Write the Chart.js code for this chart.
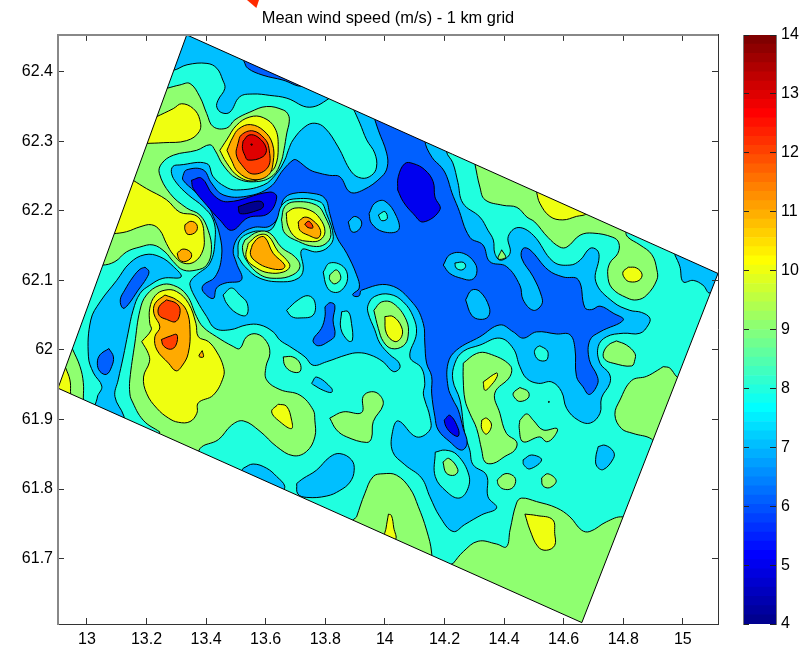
<!DOCTYPE html>
<html>
<head>
<meta charset="utf-8">
<title>Mean wind speed</title>
<script src="https://cdn.jsdelivr.net/npm/chart.js@4"></script>
<style>
    body { margin: 0; background: #fff; }
    #wrap { position: relative; width: 801px; height: 646px; overflow: hidden; }
    canvas { position: absolute; top: 0; }
    #mapChart { left: 0; }
    #barChart { left: 700px; }
    #arrow { position: absolute; left: 247px; top: 0; width: 12px; height: 8px; background: #ff2a00; clip-path: polygon(0 0, 100% 0, 78% 100%); }
</style>
</head>
<body>
<div id="wrap">
    <canvas id="mapChart" width="801" height="646"></canvas>
    <canvas id="barChart" width="101" height="646"></canvas>
    <div id="arrow"></div>
</div>
<script>
// Tick labels
const lonTicks = [13, 13.2, 13.4, 13.6, 13.8, 14, 14.2, 14.4, 14.6, 14.8, 15];
const latTicks = [61.7, 61.8, 61.9, 62, 62.1, 62.2, 62.3, 62.4];
const speedTicks = [4, 5, 6, 7, 8, 9, 10, 11, 12, 13, 14];

// Contour regions, [lon, lat]
const gridEdge = [[13.335, 62.453], [15.118, 62.110], [14.661, 61.608], [12.903, 61.945]];
const maskNW = [[13.335, 62.453], [12.903, 61.945], [12.8, 61.945], [12.8, 62.6], [13.335, 62.6]];
const maskNE = [[13.335, 62.453], [13.335, 62.6], [15.2, 62.6], [15.2, 62.110], [15.118, 62.110]];
const maskSE = [[15.118, 62.110], [15.2, 62.110], [15.2, 61.5], [14.661, 61.5], [14.661, 61.608]];
const maskSW = [[14.661, 61.608], [14.661, 61.5], [12.8, 61.5], [12.8, 61.945], [12.903, 61.945]];

// wind speed 9 to 10
const greenSouthWest = [[13.245, 61.882], [13.189, 61.899], [13.150, 61.928], [13.144, 61.938], [13.144, 61.957], [13.161, 62.010], [13.178, 62.057], [13.200, 62.079], [13.245, 62.093], [13.290, 62.093], [13.335, 62.079], [13.368, 62.048], [13.390, 62.033], [13.435, 62.019], [13.491, 62.005], [13.513, 62.002], [13.536, 62.019], [13.570, 62.023], [13.603, 62.012], [13.614, 61.995], [13.601, 61.976], [13.603, 61.957], [13.648, 61.943], [13.715, 61.935], [13.759, 61.914], [13.765, 61.899], [13.765, 61.875], [13.737, 61.854], [13.692, 61.848], [13.637, 61.861], [13.581, 61.883], [13.525, 61.898], [13.486, 61.892], [13.441, 61.871], [13.379, 61.858], [13.362, 61.828], [13.228, 61.863]];
const greenNorthWest = [[13.267, 62.376], [13.312, 62.381], [13.346, 62.383], [13.379, 62.364], [13.402, 62.340], [13.424, 62.321], [13.469, 62.319], [13.497, 62.331], [13.547, 62.342], [13.603, 62.350], [13.659, 62.345], [13.676, 62.338], [13.679, 62.328], [13.671, 62.312], [13.661, 62.287], [13.651, 62.270], [13.625, 62.251], [13.569, 62.242], [13.502, 62.247], [13.457, 62.266], [13.430, 62.287], [13.413, 62.295], [13.368, 62.287], [13.290, 62.280], [13.251, 62.268], [13.243, 62.254], [13.279, 62.225], [13.335, 62.204], [13.379, 62.194], [13.407, 62.172], [13.418, 62.144], [13.402, 62.122], [13.368, 62.115], [13.323, 62.115], [13.290, 62.127], [13.262, 62.141], [13.222, 62.151], [13.178, 62.148], [13.133, 62.141], [13.094, 62.127], [13.051, 62.122], [13.027, 62.126], [13.245, 62.381]];
const greenNorthEast = [[14.302, 62.268], [14.319, 62.234], [14.336, 62.216], [14.396, 62.208], [14.443, 62.205], [14.477, 62.191], [14.503, 62.184], [14.547, 62.162], [14.587, 62.148], [14.611, 62.148], [14.655, 62.165], [14.698, 62.168], [14.765, 62.162], [14.785, 62.154], [14.782, 62.139], [14.755, 62.125], [14.748, 62.108], [14.762, 62.089], [14.812, 62.075], [14.846, 62.072], [14.879, 62.079], [14.913, 62.101], [14.913, 62.115], [14.896, 62.137], [14.856, 62.151], [14.816, 62.162], [14.809, 62.170], [14.822, 62.187], [14.319, 62.287]];
const greenEast = [[14.777, 62.013], [14.811, 62.007], [14.839, 61.995], [14.839, 61.986], [14.828, 61.977], [14.766, 61.981], [14.739, 61.986], [14.733, 61.995], [14.750, 62.007]];
const greenSouthEast = [[14.934, 61.976], [14.956, 61.974], [14.981, 61.961], [15.024, 61.950], [14.923, 61.856], [14.895, 61.872], [14.833, 61.880], [14.794, 61.887], [14.772, 61.907], [14.789, 61.928], [14.828, 61.956], [14.878, 61.962], [14.916, 61.971]];
const greenBottom = [[14.229, 61.693], [14.263, 61.710], [14.313, 61.725], [14.375, 61.721], [14.408, 61.717], [14.420, 61.741], [14.442, 61.780], [14.459, 61.787], [14.509, 61.782], [14.576, 61.773], [14.621, 61.760], [14.660, 61.741], [14.688, 61.739], [14.744, 61.753], [14.798, 61.760], [14.856, 61.749], [14.688, 61.583], [14.185, 61.684]];
const greenSouth = [[13.905, 61.760], [13.933, 61.794], [13.961, 61.818], [13.994, 61.822], [14.039, 61.820], [14.084, 61.801], [14.112, 61.775], [14.140, 61.741], [14.157, 61.708], [14.151, 61.691], [13.883, 61.749]];
const greenTrench = [[14.263, 61.981], [14.308, 61.995], [14.347, 61.995], [14.420, 61.978], [14.420, 61.962], [14.369, 61.938], [14.386, 61.909], [14.408, 61.880], [14.442, 61.868], [14.436, 61.856], [14.403, 61.847], [14.364, 61.837], [14.336, 61.839], [14.325, 61.856], [14.308, 61.887], [14.285, 61.909], [14.269, 61.928], [14.263, 61.957]];
const greenBlobA = [[13.815, 61.902], [13.860, 61.911], [13.922, 61.910], [13.927, 61.933], [13.955, 61.940], [13.983, 61.935], [13.994, 61.921], [13.961, 61.897], [13.955, 61.873], [13.939, 61.867], [13.872, 61.875], [13.838, 61.885]];
const greenBlobB = [[14.453, 61.946], [14.481, 61.940], [14.481, 61.931], [14.453, 61.926], [14.436, 61.931], [14.431, 61.938]];
const greenBlobC = [[14.453, 61.899], [14.476, 61.908], [14.498, 61.899], [14.531, 61.885], [14.578, 61.887], [14.567, 61.875], [14.543, 61.868], [14.520, 61.875], [14.464, 61.868], [14.451, 61.887]];
const greenBlobD = [[14.377, 61.813], [14.403, 61.822], [14.431, 61.819], [14.439, 61.811], [14.426, 61.801], [14.398, 61.800], [14.381, 61.806]];
const greenBlobE = [[14.526, 61.816], [14.547, 61.822], [14.575, 61.812], [14.553, 61.802], [14.530, 61.805]];
const greenDot = [[14.549, 61.926], [14.552, 61.926], [14.550, 61.924]];
const greenCorner = [[12.952, 62.001], [12.977, 61.976], [12.988, 61.953], [12.988, 61.931], [12.987, 61.914], [12.876, 61.928], [12.876, 62.000]];
const greenWestSmall = [[13.659, 61.990], [13.691, 61.990], [13.715, 61.981], [13.715, 61.969], [13.687, 61.969], [13.664, 61.978]];

// wind speed 10 to 11
const yellowNorthWest = [[13.232, 62.335], [13.290, 62.347], [13.318, 62.354], [13.357, 62.347], [13.379, 62.331], [13.377, 62.314], [13.335, 62.301], [13.256, 62.298], [13.200, 62.297], [13.178, 62.297], [13.211, 62.338]];
const yellowWest = [[13.155, 62.244], [13.200, 62.232], [13.267, 62.216], [13.312, 62.198], [13.362, 62.194], [13.385, 62.184], [13.393, 62.165], [13.390, 62.144], [13.362, 62.127], [13.323, 62.125], [13.290, 62.137], [13.267, 62.153], [13.245, 62.172], [13.217, 62.180], [13.178, 62.177], [13.133, 62.170], [13.088, 62.167], [13.044, 62.165], [13.128, 62.247]];
const yellowSouthWest = [[13.184, 62.012], [13.206, 61.995], [13.210, 61.983], [13.190, 61.961], [13.201, 61.937], [13.235, 61.916], [13.274, 61.902], [13.307, 61.896], [13.346, 61.897], [13.369, 61.909], [13.374, 61.924], [13.424, 61.935], [13.458, 61.961], [13.458, 61.976], [13.436, 61.997], [13.408, 62.012], [13.374, 62.019], [13.366, 62.038], [13.341, 62.067], [13.301, 62.084], [13.262, 62.086], [13.229, 62.078], [13.211, 62.060], [13.211, 62.038], [13.216, 62.029]];
const yellowEdgeNE = [[14.509, 62.227], [14.520, 62.211], [14.554, 62.192], [14.597, 62.187], [14.643, 62.192], [14.677, 62.196], [14.688, 62.208], [14.520, 62.240]];
const yellowSmallNE = [[14.817, 62.119], [14.844, 62.118], [14.863, 62.109], [14.853, 62.100], [14.822, 62.098], [14.805, 62.103], [14.799, 62.112]];
const yellowSouthEast = [[14.470, 61.764], [14.509, 61.762], [14.563, 61.756], [14.570, 61.736], [14.570, 61.719], [14.542, 61.712], [14.514, 61.717], [14.487, 61.741]];
const yellowBottom = [[14.012, 61.764], [14.022, 61.762], [14.030, 61.744], [14.036, 61.728], [14.000, 61.730], [14.004, 61.744]];
const yellowTiny = [[13.642, 61.922], [13.670, 61.919], [13.687, 61.899], [13.687, 61.887], [13.653, 61.895], [13.620, 61.911]];
const yellowCorner = [[12.929, 61.974], [12.943, 61.957], [12.945, 61.940], [12.943, 61.928], [12.876, 61.935], [12.893, 61.978]];
const yellowTrenchA = [[14.330, 61.954], [14.375, 61.967], [14.377, 61.962], [14.358, 61.950], [14.336, 61.942]];
const yellowTrenchB = [[14.325, 61.899], [14.341, 61.902], [14.358, 61.892], [14.341, 61.879], [14.325, 61.887]];
const yellowPocket = [[14.000, 62.048], [14.028, 62.048], [14.056, 62.033], [14.056, 62.019], [14.034, 62.012], [14.005, 62.024]];

// wind speed 11 and up
const orangeWestA = [[13.329, 62.180], [13.349, 62.185], [13.369, 62.180], [13.366, 62.170], [13.340, 62.166], [13.329, 62.173]];
const orangeWestB = [[13.303, 62.139], [13.322, 62.145], [13.347, 62.141], [13.350, 62.133], [13.329, 62.127], [13.310, 62.130]];
const orangeSouthWest = [[13.262, 62.079], [13.301, 62.072], [13.334, 62.057], [13.346, 62.029], [13.340, 61.995], [13.319, 61.977], [13.299, 61.970], [13.274, 61.981], [13.235, 62.000], [13.228, 62.019], [13.245, 62.033], [13.225, 62.052], [13.229, 62.067]];
const orangeTiny = [[13.387, 61.999], [13.391, 61.990], [13.376, 61.991]];
const redSouthWestA = [[13.267, 62.072], [13.300, 62.067], [13.313, 62.057], [13.299, 62.041], [13.267, 62.044], [13.242, 62.050], [13.242, 62.062]];
const redSouthWestB = [[13.250, 62.015], [13.280, 62.020], [13.302, 62.022], [13.299, 62.007], [13.281, 62.001], [13.257, 62.006]];
const yellowNorthRing = [[13.446, 62.287], [13.469, 62.302], [13.502, 62.323], [13.547, 62.335], [13.592, 62.334], [13.631, 62.319], [13.642, 62.292], [13.631, 62.263], [13.603, 62.253], [13.558, 62.243], [13.507, 62.250], [13.469, 62.269]];
const orangeNorth = [[13.470, 62.287], [13.490, 62.306], [13.510, 62.318], [13.549, 62.324], [13.594, 62.315], [13.623, 62.296], [13.625, 62.270], [13.608, 62.251], [13.557, 62.245], [13.507, 62.256], [13.485, 62.273]];
const redOrangeNorth = [[13.507, 62.297], [13.518, 62.309], [13.557, 62.315], [13.596, 62.304], [13.611, 62.290], [13.608, 62.263], [13.557, 62.253], [13.518, 62.267], [13.501, 62.282]];
const redNorth = [[13.524, 62.300], [13.544, 62.309], [13.574, 62.306], [13.602, 62.290], [13.591, 62.278], [13.541, 62.273], [13.530, 62.280], [13.522, 62.290]];
const darkNorth = [[13.550, 62.296], [13.555, 62.296], [13.553, 62.294]];

// wind speed 7 to 8
const lightNorth = [[13.262, 62.405], [13.289, 62.402], [13.336, 62.410], [13.403, 62.412], [13.436, 62.405], [13.456, 62.388], [13.463, 62.376], [13.440, 62.359], [13.436, 62.349], [13.453, 62.341], [13.480, 62.342], [13.513, 62.364], [13.557, 62.368], [13.614, 62.366], [13.671, 62.362], [13.748, 62.349], [13.822, 62.364], [13.849, 62.374], [13.332, 62.474]];
const lightWest = [[13.036, 61.934], [13.050, 61.948], [13.022, 61.967], [13.005, 61.991], [13.013, 62.043], [13.044, 62.069], [13.100, 62.100], [13.144, 62.125], [13.195, 62.137], [13.245, 62.134], [13.290, 62.120], [13.316, 62.105], [13.255, 62.103], [13.211, 62.093], [13.178, 62.081], [13.155, 62.057], [13.138, 62.024], [13.122, 61.990], [13.105, 61.957], [13.094, 61.933], [13.124, 61.905], [13.124, 61.891], [13.027, 61.905]];
const lightCentre = [[13.894, 62.347], [13.911, 62.359], [14.218, 62.295], [14.207, 62.285], [14.228, 62.269], [14.245, 62.241], [14.262, 62.211], [14.319, 62.191], [14.346, 62.172], [14.364, 62.158], [14.369, 62.139], [14.388, 62.129], [14.420, 62.139], [14.414, 62.163], [14.447, 62.176], [14.498, 62.165], [14.565, 62.127], [14.621, 62.122], [14.655, 62.129], [14.688, 62.146], [14.711, 62.144], [14.719, 62.134], [14.708, 62.098], [14.766, 62.069], [14.822, 62.057], [14.861, 62.054], [14.889, 62.046], [14.884, 62.036], [14.856, 62.024], [14.800, 62.024], [14.744, 62.019], [14.716, 62.005], [14.722, 61.981], [14.753, 61.966], [14.755, 61.952], [14.727, 61.931], [14.722, 61.909], [14.690, 61.895], [14.649, 61.899], [14.610, 61.916], [14.593, 61.940], [14.560, 61.954], [14.515, 61.952], [14.476, 61.959], [14.453, 61.976], [14.431, 62.002], [14.386, 62.017], [14.319, 62.007], [14.263, 61.998], [14.235, 61.981], [14.228, 61.957], [14.252, 61.928], [14.268, 61.880], [14.285, 61.856], [14.296, 61.835], [14.341, 61.820], [14.346, 61.789], [14.375, 61.773], [14.325, 61.763], [14.268, 61.749], [14.229, 61.739], [14.185, 61.760], [14.151, 61.789], [14.123, 61.816], [14.067, 61.835], [14.026, 61.854], [14.026, 61.883], [14.045, 61.898], [14.106, 61.875], [14.151, 61.885], [14.151, 61.904], [14.134, 61.928], [14.129, 61.938], [14.134, 61.952], [14.123, 61.974], [14.084, 61.990], [14.106, 62.024], [14.095, 62.048], [14.062, 62.069], [14.017, 62.080], [13.966, 62.077], [13.944, 62.065], [13.944, 62.053], [13.966, 62.029], [13.983, 62.010], [14.017, 61.993], [14.045, 61.983], [14.050, 61.974], [14.028, 61.969], [13.994, 61.983], [13.950, 61.993], [13.910, 61.996], [13.872, 61.993], [13.804, 61.983], [13.759, 61.978], [13.732, 61.990], [13.681, 62.005], [13.648, 62.014], [13.625, 62.026], [13.581, 62.036], [13.536, 62.036], [13.480, 62.029], [13.430, 62.031], [13.402, 62.048], [13.368, 62.072], [13.346, 62.093], [13.351, 62.101], [13.368, 62.108], [13.413, 62.125], [13.430, 62.158], [13.424, 62.187], [13.390, 62.206], [13.340, 62.223], [13.301, 62.240], [13.284, 62.254], [13.289, 62.264], [13.312, 62.266], [13.402, 62.268], [13.424, 62.249], [13.463, 62.235], [13.502, 62.230], [13.592, 62.237], [13.637, 62.254], [13.664, 62.273], [13.676, 62.287], [13.692, 62.302], [13.732, 62.321], [13.765, 62.326], [13.799, 62.319], [13.843, 62.292], [13.888, 62.256], [13.922, 62.247], [13.955, 62.251], [13.972, 62.263], [13.966, 62.283], [13.939, 62.302], [13.916, 62.326]];
const lightEdgeEast = [[14.973, 62.137], [14.990, 62.120], [15.001, 62.098], [15.035, 62.100], [15.068, 62.093], [15.091, 62.082], [15.158, 62.101], [14.990, 62.151]];
const lightSouthA = [[13.525, 61.830], [13.558, 61.836], [13.603, 61.830], [13.637, 61.818], [13.664, 61.804], [13.648, 61.796], [13.513, 61.820]];
const lightSouthB = [[13.704, 61.808], [13.725, 61.815], [13.770, 61.827], [13.815, 61.846], [13.849, 61.851], [13.888, 61.842], [13.897, 61.827], [13.883, 61.810], [13.849, 61.798], [13.805, 61.790], [13.738, 61.788], [13.708, 61.793]];
const lightSouthEast = [[14.716, 61.861], [14.739, 61.863], [14.767, 61.854], [14.767, 61.844], [14.733, 61.828], [14.711, 61.833], [14.708, 61.846]];
const lightPatch = [[14.464, 61.842], [14.492, 61.849], [14.526, 61.842], [14.487, 61.829], [14.466, 61.835]];
const lightSliver = [[13.754, 61.952], [13.771, 61.961], [13.821, 61.945], [13.821, 61.939], [13.793, 61.942], [13.760, 61.950]];

// wind speed 6 to 7
const blueSliver = [[13.527, 62.415], [13.540, 62.405], [13.591, 62.395], [13.658, 62.388], [13.722, 62.379], [13.748, 62.388], [13.547, 62.431]];
const blueCentre = [[13.964, 62.334], [13.978, 62.316], [14.006, 62.283], [14.008, 62.263], [13.989, 62.249], [13.927, 62.230], [13.883, 62.227], [13.849, 62.249], [13.815, 62.251], [13.782, 62.254], [13.748, 62.259], [13.704, 62.273], [13.692, 62.273], [13.659, 62.259], [13.614, 62.234], [13.536, 62.221], [13.457, 62.223], [13.418, 62.240], [13.390, 62.259], [13.335, 62.259], [13.323, 62.251], [13.323, 62.244], [13.362, 62.228], [13.402, 62.211], [13.424, 62.192], [13.446, 62.165], [13.452, 62.134], [13.430, 62.105], [13.390, 62.093], [13.390, 62.084], [13.424, 62.074], [13.435, 62.089], [13.463, 62.096], [13.519, 62.101], [13.502, 62.125], [13.491, 62.144], [13.513, 62.165], [13.558, 62.176], [13.614, 62.178], [13.648, 62.196], [13.659, 62.216], [13.692, 62.225], [13.759, 62.225], [13.799, 62.218], [13.815, 62.196], [13.838, 62.163], [13.872, 62.139], [13.905, 62.108], [13.914, 62.089], [13.892, 62.080], [13.899, 62.077], [13.914, 62.078], [13.922, 62.086], [14.017, 62.093], [14.095, 62.067], [14.129, 62.038], [14.134, 62.010], [14.140, 61.981], [14.157, 61.962], [14.157, 61.938], [14.168, 61.904], [14.179, 61.885], [14.218, 61.868], [14.257, 61.856], [14.276, 61.866], [14.263, 61.887], [14.246, 61.914], [14.229, 61.928], [14.212, 61.947], [14.212, 61.981], [14.241, 62.000], [14.319, 62.019], [14.386, 62.036], [14.431, 62.026], [14.464, 62.017], [14.509, 62.026], [14.576, 62.023], [14.621, 62.022], [14.638, 62.002], [14.643, 61.962], [14.665, 61.947], [14.686, 61.936], [14.713, 61.950], [14.713, 61.962], [14.686, 61.986], [14.688, 62.014], [14.722, 62.026], [14.800, 62.043], [14.766, 62.053], [14.722, 62.063], [14.694, 62.058], [14.671, 62.061], [14.649, 62.101], [14.598, 62.105], [14.548, 62.115], [14.487, 62.144], [14.464, 62.146], [14.459, 62.132], [14.498, 62.105], [14.526, 62.077], [14.526, 62.065], [14.498, 62.057], [14.464, 62.072], [14.453, 62.093], [14.408, 62.120], [14.352, 62.127], [14.329, 62.151], [14.285, 62.162], [14.245, 62.205], [14.225, 62.226], [14.208, 62.249], [14.191, 62.262], [14.158, 62.277], [14.134, 62.302], [14.151, 62.316], [13.965, 62.345]];
const blueWestA = [[13.195, 62.119], [13.208, 62.113], [13.200, 62.103], [13.172, 62.086], [13.138, 62.065], [13.121, 62.060], [13.112, 62.072], [13.127, 62.086], [13.155, 62.105], [13.178, 62.116]];
const blueWestB = [[13.074, 62.002], [13.089, 61.990], [13.083, 61.976], [13.066, 61.965], [13.044, 61.969], [13.035, 61.981], [13.044, 61.993]];
const blueMiddle = [[13.799, 62.062], [13.816, 62.068], [13.832, 62.064], [13.826, 62.043], [13.832, 62.021], [13.810, 62.012], [13.776, 62.006], [13.759, 62.014], [13.787, 62.031], [13.799, 62.048]];

// wind speed 5 to 6, and below
const deepWest = [[13.351, 62.244], [13.385, 62.247], [13.424, 62.223], [13.473, 62.213], [13.614, 62.227], [13.637, 62.220], [13.608, 62.196], [13.540, 62.190], [13.486, 62.172], [13.446, 62.187], [13.402, 62.208], [13.357, 62.232]];
const deepIsland = [[14.043, 62.230], [14.045, 62.249], [14.067, 62.268], [14.095, 62.268], [14.134, 62.259], [14.162, 62.242], [14.168, 62.220], [14.185, 62.202], [14.129, 62.184], [14.095, 62.196], [14.062, 62.213]];
const deepTrench = [[14.199, 61.899], [14.218, 61.906], [14.246, 61.887], [14.246, 61.876], [14.224, 61.880], [14.205, 61.890]];
const navyWest = [[13.508, 62.206], [13.559, 62.213], [13.587, 62.213], [13.592, 62.206], [13.575, 62.201], [13.515, 62.196]];

// islands sitting on the blue and light blue areas
const lightIslandA = [[14.196, 62.122], [14.218, 62.137], [14.263, 62.139], [14.302, 62.125], [14.308, 62.110], [14.291, 62.101], [14.257, 62.103], [14.218, 62.110]];
const lightIslandB = [[14.271, 62.072], [14.291, 62.086], [14.319, 62.084], [14.350, 62.062], [14.347, 62.048], [14.319, 62.044], [14.291, 62.050]];
const lightIslandC = [[13.947, 62.196], [13.966, 62.211], [14.000, 62.214], [14.039, 62.192], [14.045, 62.172], [13.994, 62.170], [13.955, 62.182]];
const lightIslandD = [[13.877, 62.184], [13.899, 62.192], [13.922, 62.184], [13.911, 62.172], [13.889, 62.170]];
const cyanIslandA = [[13.670, 62.057], [13.709, 62.072], [13.743, 62.078], [13.765, 62.069], [13.759, 62.050], [13.715, 62.046], [13.687, 62.048]];
const cyanIslandB = [[13.457, 62.079], [13.485, 62.089], [13.513, 62.079], [13.538, 62.067], [13.535, 62.050], [13.502, 62.053], [13.469, 62.067]];
const cyanIslandC = [[13.855, 62.055], [13.877, 62.055], [13.888, 62.038], [13.891, 62.014], [13.877, 62.013], [13.852, 62.031]];
const cyanIslandD = [[13.793, 62.112], [13.815, 62.125], [13.860, 62.120], [13.875, 62.103], [13.855, 62.086], [13.827, 62.083], [13.805, 62.091]];
const cyanIslandE = [[14.235, 62.125], [14.263, 62.126], [14.271, 62.120], [14.258, 62.115], [14.239, 62.118]];
const cyanIslandF = [[13.978, 62.194], [14.000, 62.199], [14.008, 62.189], [13.989, 62.186]];
const cyanIslandG = [[14.520, 62.006], [14.543, 62.000], [14.548, 61.993], [14.541, 61.985], [14.515, 61.986], [14.502, 61.996], [14.508, 62.003]];
const cyanIslandH = [[14.169, 61.853], [14.203, 61.856], [14.243, 61.849], [14.282, 61.820], [14.276, 61.798], [14.248, 61.787], [14.208, 61.796], [14.169, 61.818]];
const cyanPeaks = [[13.507, 62.134], [13.513, 62.158], [13.558, 62.170], [13.614, 62.172], [13.637, 62.187], [13.654, 62.208], [13.692, 62.217], [13.782, 62.213], [13.804, 62.196], [13.827, 62.163], [13.810, 62.148], [13.771, 62.141], [13.721, 62.144], [13.726, 62.115], [13.709, 62.103], [13.659, 62.098], [13.581, 62.103], [13.530, 62.120]];
const greenPeaksA = [[13.653, 62.187], [13.664, 62.206], [13.698, 62.213], [13.771, 62.208], [13.799, 62.192], [13.819, 62.166], [13.799, 62.152], [13.760, 62.149], [13.710, 62.156], [13.664, 62.168]];
const greenPeaksB = [[13.530, 62.158], [13.575, 62.170], [13.614, 62.168], [13.654, 62.147], [13.698, 62.134], [13.715, 62.120], [13.691, 62.108], [13.636, 62.103], [13.582, 62.108], [13.535, 62.129], [13.522, 62.147]];
const greenIsland = [[13.815, 62.108], [13.838, 62.115], [13.852, 62.103], [13.832, 62.095], [13.815, 62.101]];
const greenPocket = [[13.963, 62.057], [13.989, 62.069], [14.028, 62.067], [14.072, 62.043], [14.078, 62.020], [14.062, 62.006], [14.023, 62.002], [13.995, 62.012], [13.978, 62.031]];
const greenTriangle = [[14.392, 62.144], [14.405, 62.133], [14.380, 62.131]];
const greenIslandH = [[14.195, 61.839], [14.215, 61.844], [14.245, 61.828], [14.234, 61.820], [14.206, 61.823]];
const yellowPeakA = [[13.669, 62.197], [13.698, 62.204], [13.748, 62.201], [13.782, 62.189], [13.799, 62.170], [13.782, 62.158], [13.748, 62.156], [13.703, 62.161], [13.675, 62.178]];
const yellowPeakB = [[13.541, 62.153], [13.575, 62.165], [13.608, 62.164], [13.641, 62.142], [13.669, 62.130], [13.681, 62.120], [13.659, 62.112], [13.609, 62.111], [13.569, 62.118], [13.535, 62.132]];
const orangePeakA = [[13.709, 62.184], [13.731, 62.191], [13.759, 62.186], [13.784, 62.172], [13.776, 62.161], [13.743, 62.165], [13.715, 62.172]];
const orangePeakB = [[13.555, 62.151], [13.575, 62.161], [13.597, 62.162], [13.625, 62.139], [13.664, 62.122], [13.655, 62.116], [13.610, 62.118], [13.571, 62.126], [13.549, 62.137]];
const redPeakA = [[13.731, 62.181], [13.745, 62.185], [13.759, 62.176], [13.742, 62.176]];

const levelColors = { 4: "#00008f", 5: "#0000ef", 6: "#0060ff", 7: "#00bfff", 8: "#20ffdf", 9: "#8fff70", 10: "#efff10", 11: "#ffaa00", 12: "#ff4000", 13: "#df0000", 14: "#800000" };

// Painter's order, lowest layer first
const regions = [
    [8, gridEdge],
    [9, greenSouthWest], [9, greenNorthWest], [9, greenNorthEast], [9, greenEast], [9, greenSouthEast],
    [9, greenBottom], [9, greenSouth], [9, greenTrench], [9, greenBlobA], [9, greenBlobB], [9, greenBlobC],
    [9, greenBlobD], [9, greenBlobE], [9, greenDot], [9, greenCorner], [9, greenWestSmall],
    [10, yellowNorthWest], [10, yellowWest], [10, yellowSouthWest], [10, yellowEdgeNE], [10, yellowSmallNE],
    [10, yellowSouthEast], [10, yellowBottom], [10, yellowTiny], [10, yellowCorner], [10, yellowTrenchA], [10, yellowTrenchB],
    [11, orangeWestA], [11, orangeWestB], [11, orangeSouthWest], [11, orangeTiny],
    [12, redSouthWestA], [12, redSouthWestB],
    [10, yellowNorthRing], [11, orangeNorth], [12, redOrangeNorth], [13, redNorth], [14, darkNorth],
    [7, lightNorth], [7, lightWest], [7, lightCentre], [7, lightEdgeEast], [7, lightSouthA], [7, lightSouthB],
    [7, lightSouthEast], [7, lightPatch], [7, lightSliver],
    [6, blueSliver], [6, blueCentre], [6, blueWestA], [6, blueWestB], [6, blueMiddle],
    [5, deepWest], [5, deepIsland], [5, deepTrench], [4, navyWest],
    [7, lightIslandA], [7, lightIslandB], [7, lightIslandC], [7, lightIslandD],
    [8, cyanIslandA], [8, cyanIslandB], [8, cyanIslandC], [8, cyanIslandD], [8, cyanIslandE], [8, cyanIslandF],
    [8, cyanIslandG], [8, cyanIslandH], [8, cyanPeaks],
    [9, greenPeaksA], [9, greenPeaksB], [9, greenIsland], [9, greenPocket], [9, greenTriangle], [9, greenIslandH],
    [10, yellowPeakA], [10, yellowPeakB], [10, yellowPocket],
    [11, orangePeakA], [11, orangePeakB], [12, redPeakA]
];
const masks = [maskNW, maskNE, maskSE, maskSW];

function toPoints(ring) {
    const pts = ring.map(p => ({ x: p[0], y: p[1] }));
    pts.push(pts[0]);
    return pts;
}

function polygon(ring, color, tension) {
    return {
        data: toPoints(ring),
        showLine: true,
        fill: "shape",
        tension: tension,
        pointRadius: 0,
        borderWidth: tension ? 1 : 0,
        borderColor: "#000",
        backgroundColor: color
    };
}

const datasets = regions.map(r => polygon(r[1], levelColors[r[0]], r[1] === gridEdge ? 0 : 0.4));
masks.forEach(m => datasets.push(polygon(m, "#fff", 0)));
datasets.push({ data: toPoints(gridEdge), showLine: true, fill: false, tension: 0, pointRadius: 0, borderWidth: 1, borderColor: "#000" });
// Chart.js paints the first dataset last
datasets.reverse();

const tickFont = { family: "'Liberation Sans'", size: 16 };

function axis(position, values, limits, showLabels, borderColor) {
    return {
        type: "linear",
        position: position,
        min: limits[0],
        max: limits[1],
        afterBuildTicks: s => { s.ticks = values.map(v => ({ value: v })); },
        afterFit: s => {
            if (position === "bottom") s.height = 22;
            if (position === "top") s.height = 5.2;
            if (position === "left") s.width = 58;
            if (position === "right") s.width = 83;
        },
        border: { color: borderColor, width: position === "left" || position === "top" ? 2 : 1, z: 1 },
        grid: { drawOnChartArea: false, tickLength: -6, color: "#333", z: 1 },
        ticks: {
            display: showLabels,
            autoSkip: false,
            maxRotation: 0,
            padding: position === "bottom" ? 12 : 11,
            color: "#000",
            font: tickFont,
            callback: v => String(+v.toFixed(1))
        }
    };
}

const lonRange = [12.903, 15.118];
const latRange = [61.606, 62.453];

new Chart(document.getElementById("mapChart"), {
    type: "scatter",
    data: { datasets: datasets },
    options: {
        responsive: false,
        animation: false,
        layout: { padding: 0 },
        scales: {
            x: axis("bottom", lonTicks, lonRange, true, "#333"),
            x2: axis("top", lonTicks, lonRange, false, "#888"),
            y: axis("left", latTicks, latRange, true, "#888"),
            y2: axis("right", latTicks, latRange, false, "#333")
        },
        plugins: {
            legend: { display: false },
            tooltip: { enabled: false },
            title: {
                display: true,
                text: "Mean wind speed (m/s) - 1 km grid",
                color: "#000",
                fullSize: false,
                font: { family: "'Liberation Sans'", size: 16.4, weight: "normal" },
                padding: { top: 9, bottom: 1 }
            }
        }
    }
});

// Colour bar, the jet map in 64 bands
function jet(i) {
    const x = (i + 1) / 64;
    const c = v => Math.round(255 * Math.max(0, Math.min(1, v)));
    const r = c(Math.min(4 * x - 1.5, 4.5 - 4 * x));
    const g = c(Math.min(4 * x - 0.5, 3.5 - 4 * x));
    const b = c(Math.min(4 * x + 0.5, 2.5 - 4 * x));
    return `rgb(${r},${g},${b})`;
}

const bandCount = 64;
const bands = Array.from({ length: bandCount }, (_, i) => ({
    data: [[4 + i * 10 / bandCount, 4 + (i + 1) * 10 / bandCount]],
    backgroundColor: jet(i),
    grouped: false,
    barPercentage: 1,
    categoryPercentage: 1
}));

function barAxis(position) {
    return {
        type: "linear",
        position: position,
        min: 4,
        max: 14,
        afterBuildTicks: s => { s.ticks = speedTicks.map(v => ({ value: v })); },
        afterFit: s => { s.width = position === "left" ? 43 : 25; },
        border: { color: "#777", width: 1, z: 2 },
        grid: { drawOnChartArea: false, tickLength: -6, color: "#222", z: 2 },
        ticks: { display: position === "right", padding: 11, color: "#000", font: tickFont }
    };
}

new Chart(document.getElementById("barChart"), {
    type: "bar",
    data: { labels: ["speed"], datasets: bands },
    options: {
        responsive: false,
        animation: false,
        layout: { padding: { top: 35 } },
        scales: {
            x: { display: true, ticks: { display: false }, grid: { display: false }, border: { display: false }, afterFit: s => { s.height = 22; } },
            y: barAxis("left"),
            y2: barAxis("right")
        },
        plugins: { legend: { display: false }, tooltip: { enabled: false } }
    }
});
</script>
</body>
</html>
